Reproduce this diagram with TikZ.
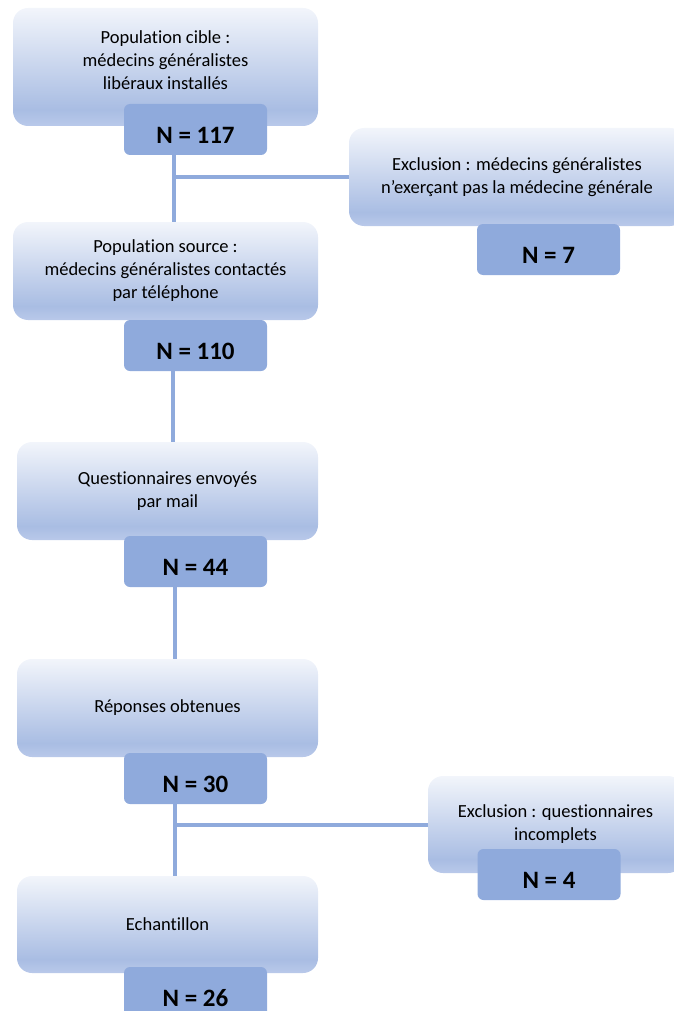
\documentclass[tikz,border=0pt]{standalone}
\usepackage{fontspec}
\setmainfont{Carlito}[Ligatures={NoCommon}]
\usetikzlibrary{positioning}
\definecolor{nfill}{HTML}{8FAADC}
\definecolor{boxtop}{HTML}{F2F5FB}
\definecolor{boxbot}{HTML}{A9BDE3}
\definecolor{boxlow}{HTML}{B9C9EA}
\pgfdeclareverticalshading{boxshade}{100bp}{color(0bp)=(boxlow); color(25bp)=(boxlow); color(32bp)=(boxbot); color(75bp)=(boxtop); color(100bp)=(boxtop)}
\tikzset{
	x=1pt, y=-1pt,
	every node/.style={align=center, outer sep=0pt},
	etape/.style={rounded corners=15pt, shade, shading=boxshade, minimum width=301pt, minimum height=98pt, inner sep=2pt, text=black, font=\fontsize{18.5}{23}\selectfont},
	nbox/.style={rounded corners=6pt, fill=nfill, minimum width=143pt, minimum height=51pt, text=black, font=\bfseries\fontsize{25}{28}\selectfont, text height=28pt, text depth=0pt},
	trait/.style={draw=nfill, line width=4pt}
}

\begin{document}
\begin{tikzpicture}
	\useasboundingbox (0,0) rectangle (674,1011);
	\clip (0,0) rectangle (674,1011);
	% etapes
	\node (cible) [etape, minimum width=305pt, minimum height=118pt] at (165.5,67) {Population cible :\\médecins généralistes\\libéraux installés\rule[-14pt]{0pt}{14pt}};
	\node (source) [etape, minimum width=305pt] at (165.5,271) {Population source :\\médecins généralistes contactés\\par téléphone};
	\node (envoi) [etape] at (167.5,491) {Questionnaires envoyés\\par mail};
	\node (reponse) [etape] at (167.5,708) {Réponses obtenues};
	\node (echant) [etape, minimum height=97pt] at (167.5,924.5) {Echantillon};
	\node (excl1) [etape, minimum width=336pt] at (517,177) {Exclusion : médecins généralistes\\n’exerçant pas la médecine générale};
	\node (excl2) [etape, minimum width=255pt, minimum height=97pt] at (555.5,824.5) {Exclusion : questionnaires\\incomplets};
	
	% effectifs
	\node (n117) [nbox, below = -22pt of cible, xshift=30pt] {N = 117};
	\node (n110) [nbox, below = 0pt of source, xshift=30pt] {N = 110};
	\node (n44) [nbox, below = -4pt of envoi, xshift=28pt] {N = 44};
	\node (n30) [nbox, below = -4pt of reponse, xshift=28pt] {N = 30};
	\node (n26) [nbox, below = -6pt of echant, xshift=28pt] {N = 26};
	\node (n7) [nbox, below = -2pt of excl1, xshift=31.5pt] {N = 7};
	\node (n4) [nbox, below = -24pt of excl2, xshift=-6.5pt] {N = 4};
	
	% liaisons
	\coordinate (j1) at ([xshift=-22pt]n117.south);
	\coordinate (j2) at ([xshift=-23pt]n110.south);
	\coordinate (j3) at ([xshift=-21pt]n44.south);
	\coordinate (j4) at ([xshift=-21pt]n30.south);
	\draw[trait] (j1) -- (j1 |- source.north);
	\draw[trait] (excl1.west) -- (excl1.west -| j1);
	\draw[trait] (j2) -- (j2 |- envoi.north);
	\draw[trait] (j3) -- (j3 |- reponse.north);
	\draw[trait] (j4) -- (j4 |- echant.north);
	\draw[trait] (excl2.west) -- (excl2.west -| j4);
\end{tikzpicture}
\end{document}
